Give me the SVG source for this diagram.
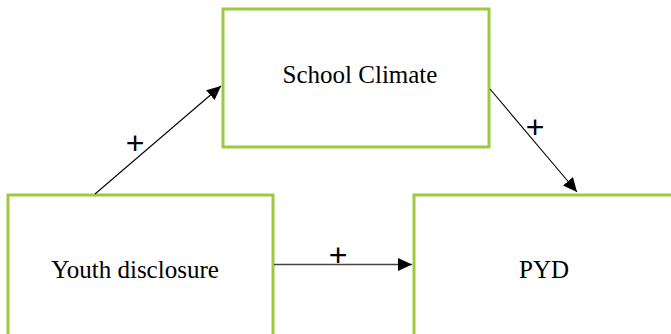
<svg xmlns="http://www.w3.org/2000/svg" width="671" height="334" viewBox="0 0 671 334">
<style>
.box{fill:#fff;stroke:#9fc93c;stroke-width:3}
.lbl{font-family:"Liberation Serif","Times New Roman",serif;font-size:25px;fill:#000;text-anchor:middle}
.plus{font-family:"Liberation Sans",Arial,sans-serif;font-size:32px;fill:#000;text-anchor:middle}
.conn{stroke:#000;stroke-width:1.1;fill:none;marker-end:url(#ah)}
</style>
<defs>
<marker id="ah" markerUnits="userSpaceOnUse" markerWidth="15" markerHeight="13" refX="14" refY="6.5" orient="auto">
<path d="M0,0 L14,6.5 L0,13 Z" fill="#000"/>
</marker>
</defs>
<rect width="671" height="334" fill="#fff"/>
<g id="school-climate">
<rect class="box" x="223" y="9" width="266" height="138"/>
<text class="lbl" x="360" y="83">School Climate</text>
</g>
<g id="youth-disclosure">
<rect class="box" x="8" y="195" width="265" height="150"/>
<text class="lbl" x="135" y="278">Youth disclosure</text>
</g>
<g id="pyd">
<rect class="box" x="414" y="195" width="270" height="150"/>
<text class="lbl" x="544" y="278">PYD</text>
</g>
<g id="connectors">
<line class="conn" x1="95" y1="194" x2="221" y2="86"/>
<line class="conn" x1="490" y1="89" x2="577" y2="192"/>
<line class="conn" x1="274" y1="264.5" x2="412" y2="264.5" style="stroke:#444;stroke-width:1.5"/>
<text class="plus" x="135" y="154">+</text>
<text class="plus" x="535" y="138">+</text>
<text class="plus" x="338" y="266">+</text>
</g>
</svg>
